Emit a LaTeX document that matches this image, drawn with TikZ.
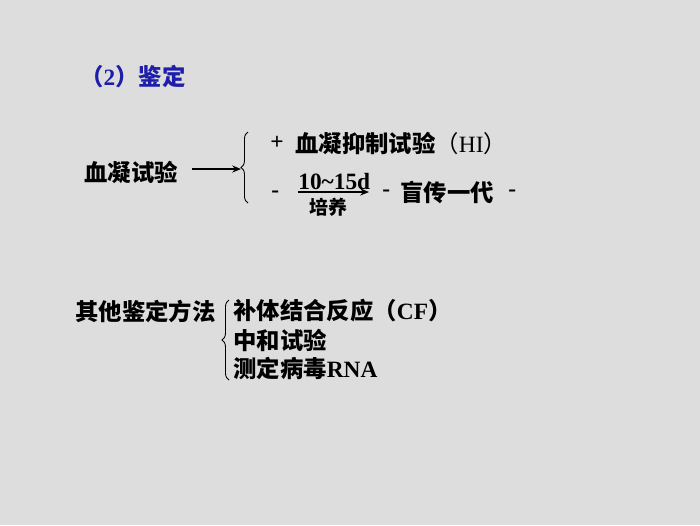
\documentclass[tikz,border=0pt]{standalone}
\usepackage{fontspec}
\setmainfont{Liberation Serif}
\newfontfamily\cjk{Noto Sans CJK SC}
\usetikzlibrary{arrows.meta,decorations.pathreplacing}
\definecolor{bg}{HTML}{DDDDDD}
\definecolor{ttl}{HTML}{1E1EAA}
\tikzset{
  px/.style={x=0.02cm,y=-0.02cm},
  txt/.style={anchor=west,inner sep=0pt,font=\bfseries\fontsize{13.3}{16}\selectfont},
  small/.style={anchor=west,inner sep=0pt,font=\bfseries\fontsize{10.8}{13}\selectfont},
  brc/.style={draw,line width=0.5pt,decorate,decoration={brace,amplitude=4pt}},
  arr/.style={draw,line width=0.6pt,-{Stealth[length=5pt,width=4pt]}}
}
\begin{document}
\begin{tikzpicture}[px]
\fill[bg] (0,0) rectangle (700,525);
\node[txt,text=ttl] (title) at (80,77) {{\cjk （}2{\cjk ）鉴定}};
% first block
\node[txt] (hn) at (84,172) {\cjk 血凝试验};
\coordinate (b1) at (241,169);
\draw[arr] ([xshift=14*0.02cm]b1 -| hn.east) -- (b1);
\coordinate (b1top) at (248,132);
\coordinate (b1bot) at (248,203);
\draw[brc] (b1bot) -- (b1top);
\node[txt] (plus) at (270,143) {+};
\node[txt] (hi) at (295,143) {{\cjk 血凝抑制试验}{\cjk\mdseries （}\mdseries HI{\cjk\mdseries ）}};
\node[txt] (m1) at (271,194) {-};
\node[txt] (days) at (298,182) {10\textasciitilde15d};
\coordinate (la) at (298,192);
\coordinate (lb) at (369,192);
\draw[arr] (la) -- (lb);
\node[small] (py) at (309,207) {\cjk 培养};
\node[txt] (m2) at (382,193) {-};
\node[txt] (mc) at (400,193) {\cjk 盲传一代};
\node[txt] (m3) at (508,193) {-};
% second block
\node[txt] (qt) at (75,311) {\cjk 其他鉴定方法};
\coordinate (b2top) at (229,300);
\coordinate (b2bot) at (229,380);
\draw[brc] (b2bot) -- (b2top);
\node[txt] (cf) at (233,311) {{\cjk 补体结合反应（}CF{\cjk ）}};
\node[txt] (zh) at (233,340) {\cjk 中和试验};
\node[txt] (rna) at (233,368) {{\cjk 测定病毒}RNA};
\end{tikzpicture}
\end{document}
